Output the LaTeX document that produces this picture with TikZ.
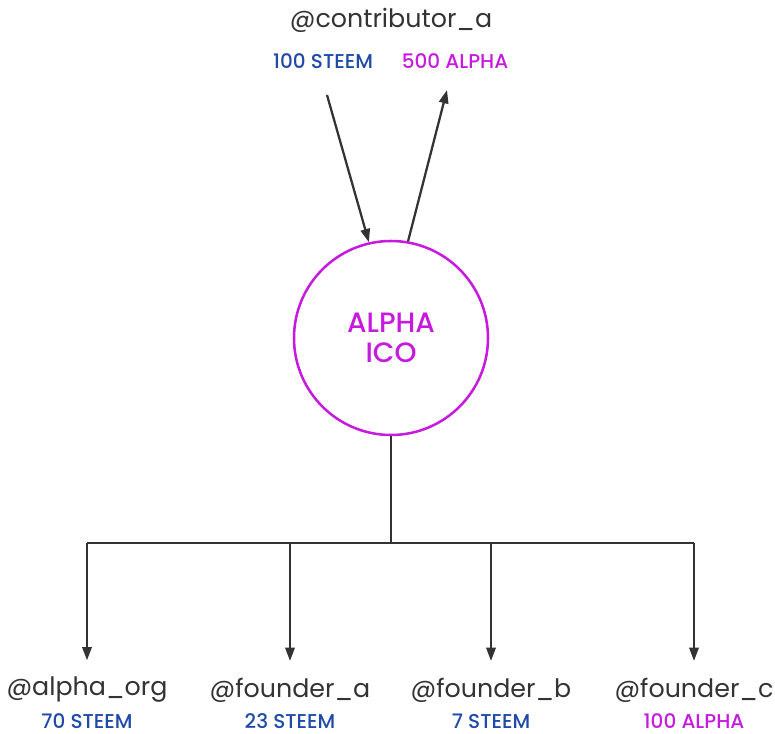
\documentclass[tikz,border=0pt]{standalone}
\usepackage{fontspec}
\setmainfont{Poppins}
\newfontfamily\amtfont{Poppins Medium}
\usetikzlibrary{arrows.meta}

\definecolor{steemblue}{RGB}{31,74,168}
\definecolor{alphapurple}{RGB}{198,27,222}
\definecolor{linegray}{RGB}{51,51,51}

\tikzset{every picture/.style={line width=1.7pt}}
\tikzset{
  flow/.style={draw=linegray, -{Triangle[length=10pt,width=7pt]}},
  link/.style={draw=linegray},
  acct/.style={inner sep=0.75pt, text=linegray, font=\fontsize{19}{22}\selectfont},
  amt/.style={inner sep=0.75pt, font=\amtfont\fontsize{15}{18}\selectfont},
}

\begin{document}
\begin{tikzpicture}[x=0.75pt,y=0.75pt,yscale=-1,xscale=1]
\useasboundingbox (0,0) rectangle (775,734);

%Shape: Circle
\node (ico) [circle, draw=alphapurple, line width=1.9pt, minimum size=145.5pt, inner sep=0pt, text=alphapurple, align=center, font=\amtfont\fontsize{21}{23}\selectfont] at (391,338) {ALPHA\\ICO};

% Text Node
\node (contrib) [acct] at (391,20) {@contributor\_a};
% Text Node
\node (paid) [amt, text=steemblue] at (323,61) {100 STEEM};
% Text Node
\node (got) [amt, text=alphapurple] at (455,61) {500 ALPHA};

% Text Node
\node (org) [acct] at (87,690) {@alpha\_org};
\node (fa) [acct] at (290,690) {@founder\_a};
\node (fb) [acct] at (491,690) {@founder\_b};
\node (fc) [acct] at (694,690) {@founder\_c};
% Text Node
\node (orgamt) [amt, text=steemblue] at (87,721) {70 STEEM};
\node (faamt) [amt, text=steemblue] at (290,721) {23 STEEM};
\node (fbamt) [amt, text=steemblue] at (491,721) {7 STEEM};
\node (fcamt) [amt, text=alphapurple] at (694,721) {100 ALPHA};

%Straight Lines
\coordinate (inS) at (327,95);
\coordinate (outE) at (447,90);
\draw [flow] (inS) -- (ico.103);
\draw [flow] (ico.80) -- (outE);

%Straight Lines
\coordinate (split) at (391,543);
\coordinate (ja) at (87,543);
\coordinate (jb) at (290,543);
\coordinate (jc) at (491,543);
\coordinate (jd) at (694,543);
\draw [link] (ico.south) -- (split);
\draw [link] (ja) -- (jd);
\draw [flow, shorten >=11pt] (ja) -- (org.north);
\draw [flow, shorten >=11pt] (jb) -- (fa.north);
\draw [flow, shorten >=11pt] (jc) -- (fb.north);
\draw [flow, shorten >=11pt] (jd) -- (fc.north);

\end{tikzpicture}
\end{document}
